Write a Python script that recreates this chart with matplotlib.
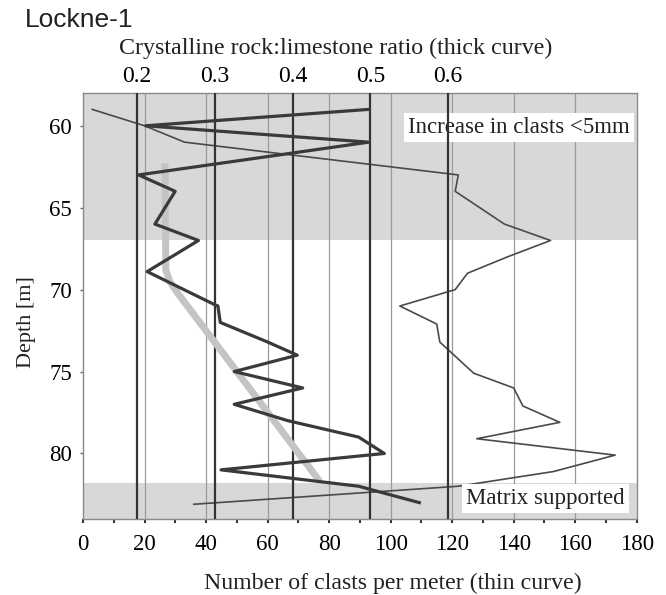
import matplotlib.pyplot as plt

# thin curve: number of clasts per meter
depth_thin = [59.0, 60.0, 61.0, 63.0, 64.0, 66.0, 67.0, 68.0, 69.0, 70.0, 71.0, 72.1, 73.2,
              75.1, 76.0, 77.1, 78.1, 79.1, 80.1, 81.1, 82.0, 83.1]
clasts = [3, 20, 33, 122, 121, 137, 152, 138, 125, 121, 103, 115, 116,
          127, 140, 143, 155, 128, 173, 153, 122, 36]

# thick curve: crystalline rock / limestone ratio
depth_thick = [59.0, 60.0, 61.0, 63.0, 64.0, 66.0, 67.0, 68.9, 70.9, 71.0, 72.0, 73.2,
               74.0, 75.0, 76.0, 77.0, 78.0, 79.0, 80.0, 81.0, 82.0, 83.0]
ratio = [0.498, 0.211, 0.498, 0.202, 0.249, 0.223, 0.279, 0.213, 0.299, 0.304, 0.307, 0.368,
         0.406, 0.325, 0.413, 0.325, 0.394, 0.485, 0.518, 0.308, 0.485, 0.563]

# light grey trend of the ratio
depth_trend = [62.3, 68.8, 69.5, 70.2, 81.7]
ratio_trend = [0.236, 0.237, 0.242, 0.252, 0.435]

bands = [(58.0, 67.0), (81.8, 84.0)]
clast_ticks = [0, 20, 40, 60, 80, 100, 120, 140, 160, 180]
ratio_ticks = [0.2, 0.3, 0.4, 0.5, 0.6]
depth_ticks = [60, 65, 70, 75, 80]

serif = 'Liberation Serif'

fig = plt.figure(figsize=(6.66, 5.95), dpi=100)
ax = fig.add_axes([0.1246, 0.1277, 0.8314, 0.716])
ax.set_xlim(0, 180)
ax.set_ylim(84, 58)

for top, bot in bands:
    ax.axhspan(top, bot, color='#d8d8d8', lw=0, zorder=0)
for c in clast_ticks[1:-1]:
    ax.axvline(c, color='#9a9a9a', lw=0.9, zorder=1)

ax.plot(clasts, depth_thin, color='#4a4a4a', lw=1.2, zorder=4)

ax.set_xticks(clast_ticks)
ax.set_xticks(range(10, 180, 20), minor=True)
ax.set_yticks(depth_ticks)
ax.tick_params(axis='x', which='both', direction='out', length=3, width=1.5,
               color='#333333', pad=8, labelsize=16.5)
ax.tick_params(axis='y', direction='out', length=2, width=1, color='#666666',
               pad=6, labelsize=16.5)
for lab in ax.get_xticklabels() + ax.get_yticklabels():
    lab.set_family(serif)
for sp in ax.spines.values():
    sp.set_color('#8a8a8a')
    sp.set_linewidth(1)

ax2 = ax.twiny()
ax2.set_xlim(0.1305, 0.8425)
ax2.set_xticks(ratio_ticks)
ax2.set_xticklabels(['0.2', '0.3', '0.4', '0.5', '0.6'], family=serif)
ax2.tick_params(axis='x', length=0, pad=4, labelsize=17)
for r in ratio_ticks:
    ax2.axvline(r, color='#333333', lw=1.6, zorder=2)
ax2.plot(ratio_trend, depth_trend, color='#c4c4c4', lw=5, solid_capstyle='butt', zorder=3)
ax2.plot(ratio, depth_thick, color='#3a3a3a', lw=2.3, zorder=5)
for sp in ax2.spines.values():
    sp.set_visible(False)

box = dict(facecolor='white', edgecolor='none', pad=3)
ax.text(177.8, 60.1, 'Increase in clasts <5mm', ha='right', va='center',
        family=serif, fontsize=16.5, color='#222222', bbox=box, zorder=6)
ax.text(176, 82.75, 'Matrix supported', ha='right', va='center',
        family=serif, fontsize=16.5, color='#222222', bbox=box, zorder=6)

fig.text(25 / 666, 1 - 20 / 595, 'Lockne-1', family='Liberation Sans', fontsize=19,
         ha='left', va='center', color='#222222')
fig.text(336 / 666, 1 - 48 / 595, 'Crystalline rock:limestone ratio (thick curve)',
         family=serif, fontsize=17.3, ha='center', va='center', color='#222222')
fig.text(393 / 666, 1 - 583 / 595, 'Number of clasts per meter (thin curve)',
         family=serif, fontsize=17.2, ha='center', va='center', color='#222222')
fig.text(26 / 666, 1 - 322 / 595, 'Depth [m]', family=serif, fontsize=16,
         rotation=90, ha='center', va='center', color='#222222')

fig.savefig('out.png', dpi=100)
